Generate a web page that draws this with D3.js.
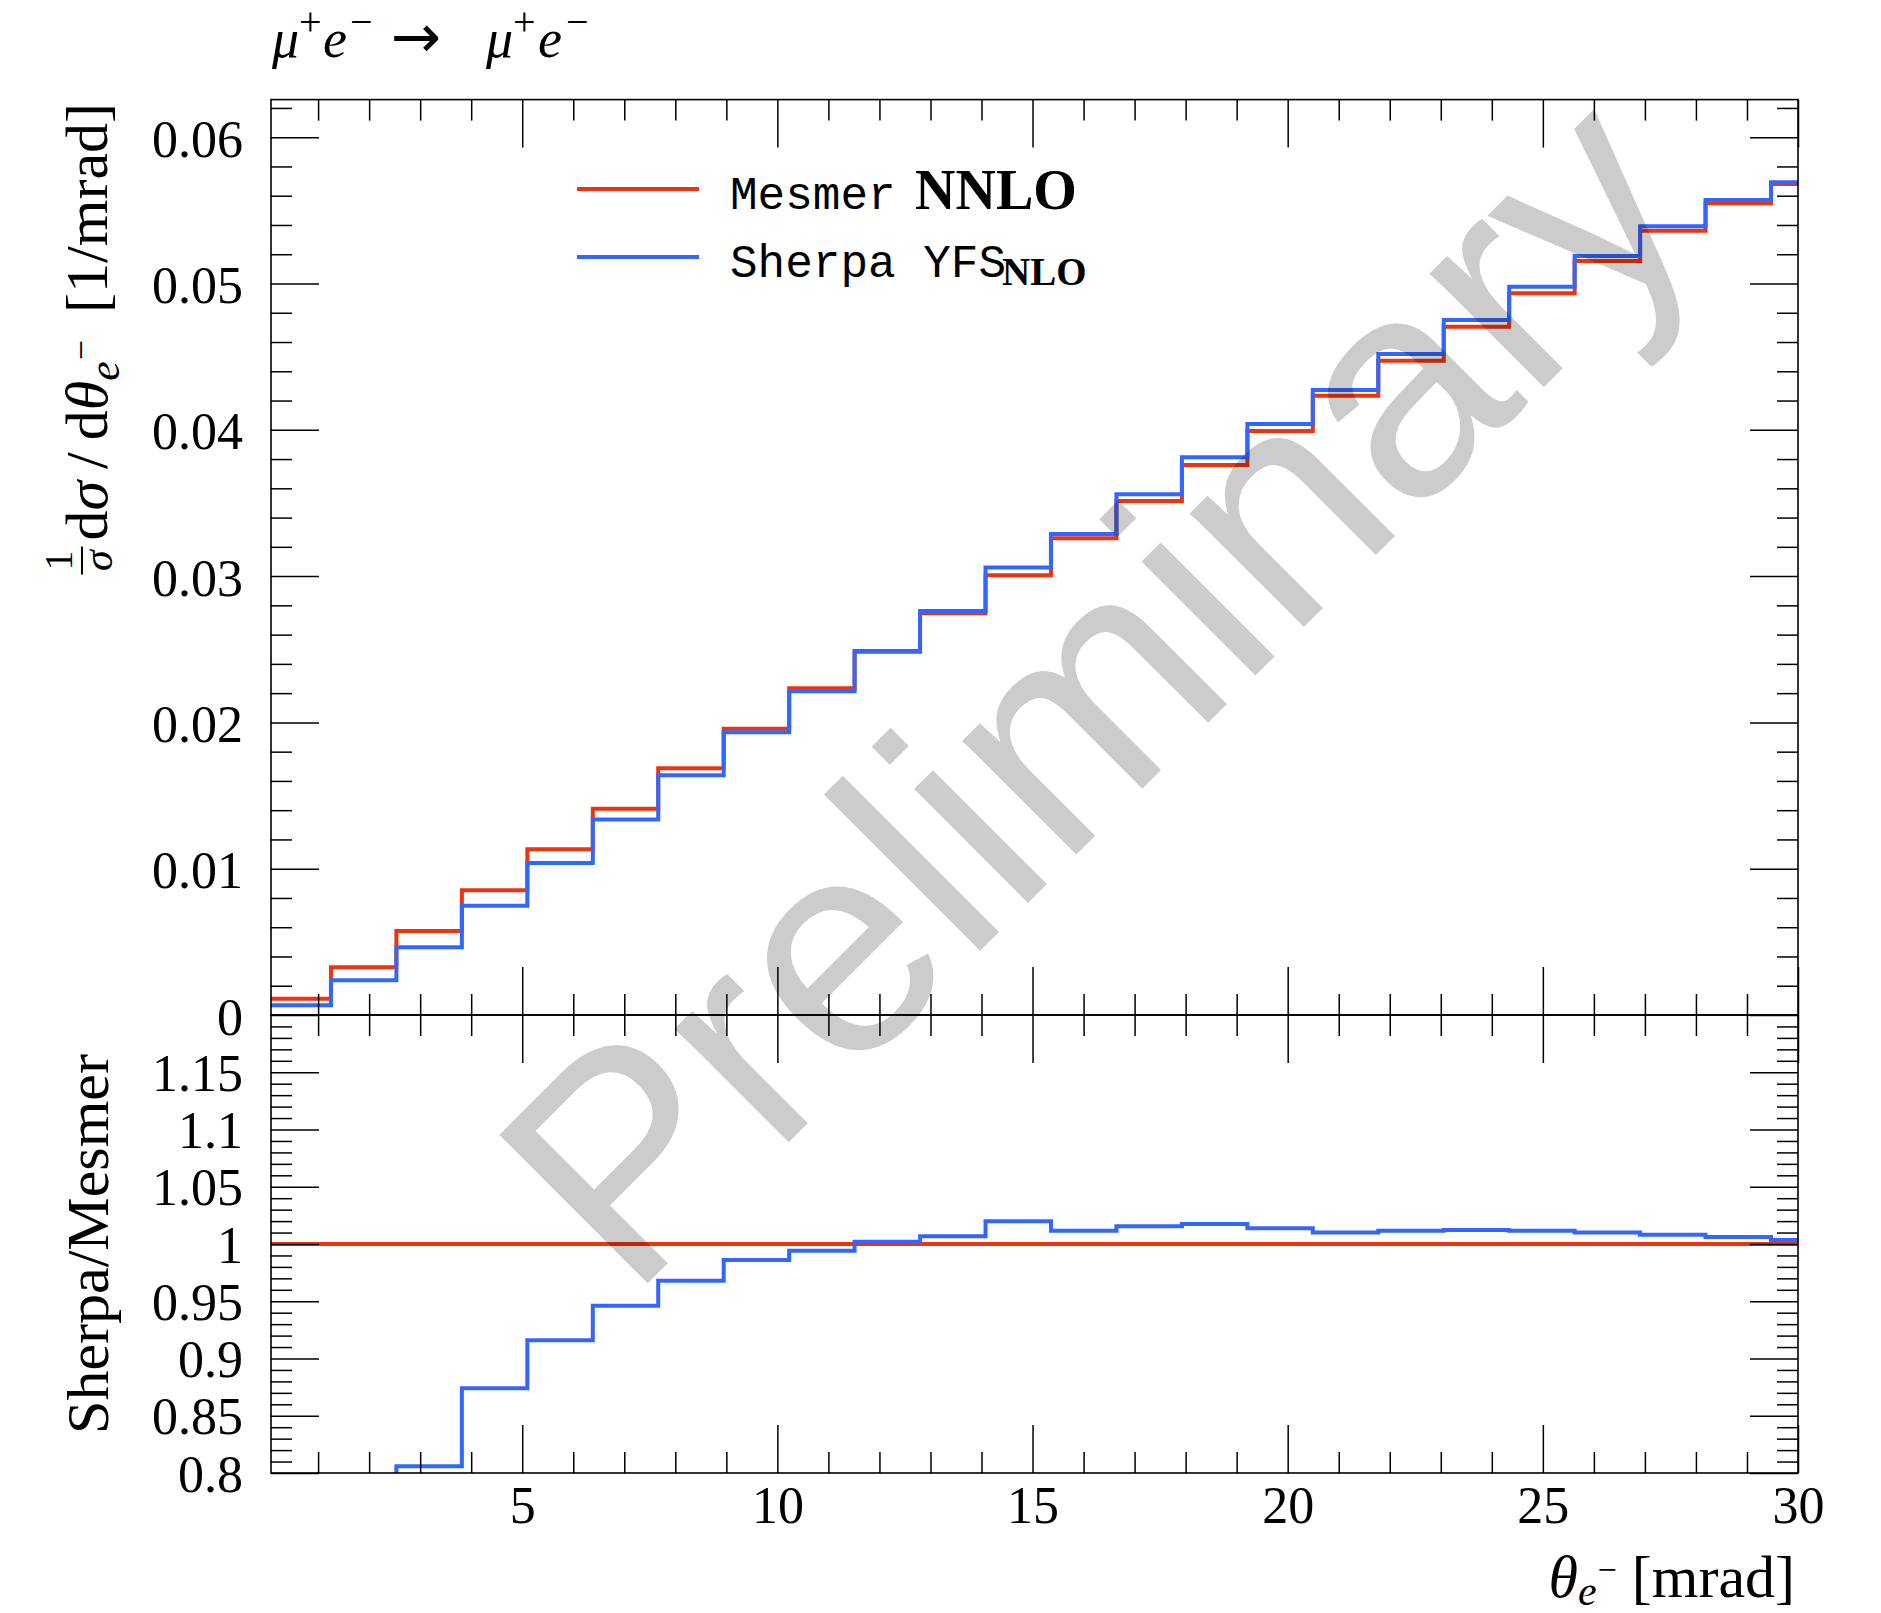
<!DOCTYPE html>
<html><head><meta charset="utf-8">
<script src="https://cdn.jsdelivr.net/npm/d3@7"></script>
<style>
html,body{margin:0;padding:0;background:#fff;}
svg{display:block;}
</style></head><body>
<svg id="c" width="1881" height="1613"></svg>
<script>
// ---- data ----
const binEdges = [-0.031, 1.252, 2.534, 3.817, 5.100, 6.383, 7.665, 8.948, 10.231, 11.513, 12.796, 14.079,
  15.361, 16.644, 17.927, 19.210, 20.492, 21.775, 23.058, 24.340, 25.623, 26.906, 28.188, 29.471, 30.754];
const mesmerNNLO = [0.00111, 0.00326, 0.00574, 0.00852, 0.01133, 0.01410, 0.01686, 0.01957, 0.02233, 0.02483,
  0.02746, 0.03005, 0.03258, 0.03513, 0.03759, 0.03992, 0.04233, 0.04472, 0.04705, 0.04933, 0.05154, 0.05361, 0.05548, 0.05680];
const sherpaYFS = [0.00066, 0.00237, 0.00463, 0.00747, 0.01039, 0.01337, 0.01638, 0.01932, 0.02213, 0.02488,
  0.02761, 0.03058, 0.03288, 0.03559, 0.03812, 0.04040, 0.04272, 0.04518, 0.04750, 0.04978, 0.05188, 0.05391, 0.05571, 0.05692];
const ratioSherpa = [0.59, 0.73, 0.806, 0.874, 0.916, 0.946, 0.968, 0.986, 0.994, 1.002, 1.0067, 1.0199,
  1.0116, 1.0156, 1.0174, 1.0137, 1.0101, 1.0116, 1.0123, 1.0116, 1.0101, 1.0080, 1.0062, 1.0036];
const ratioMesmer = [1, 1, 1, 1, 1, 1, 1, 1, 1, 1, 1, 1, 1, 1, 1, 1, 1, 1, 1, 1, 1, 1, 1, 1];
const xTickValues = [5, 10, 15, 20, 25, 30];
const xTickLabels = ["5", "10", "15", "20", "25", "30"];
const yMainTickValues = [0, 0.01, 0.02, 0.03, 0.04, 0.05, 0.06];
const yMainTickLabels = ["0", "0.01", "0.02", "0.03", "0.04", "0.05", "0.06"];
const yRatioTickValues = [0.8, 0.85, 0.9, 0.95, 1.0, 1.05, 1.1, 1.15];
const yRatioTickLabels = ["0.8", "0.85", "0.9", "0.95", "1", "1.05", "1.1", "1.15"];

// ---- layout ----
const L = 271, R = 1798, T = 99.6, MID = 1015, B = 1473;
const RED = "#EE3311", BLUE = "#3366FF";
const SERIF = "'Liberation Serif','DejaVu Serif',serif";
const MONO = "'Liberation Mono','DejaVu Sans Mono',monospace";

const svg = d3.select("#c");
svg.append("rect").attr("width", 1881).attr("height", 1613).attr("fill", "#fff");

const x = d3.scaleLinear().domain([0.077, 30]).range([L, R]);
const yMain = d3.scaleLinear().domain([0, 0.06257]).range([MID, T]);
const yRatio = d3.scaleLinear().domain([0.8, 1.2]).range([B, MID]);

const defs = svg.append("defs");
defs.append("clipPath").attr("id", "clipMain").append("rect")
  .attr("x", L).attr("y", T).attr("width", R - L).attr("height", MID - T);
defs.append("clipPath").attr("id", "clipRatio").append("rect")
  .attr("x", L).attr("y", MID).attr("width", R - L).attr("height", B - MID);

function stepPoints(vals) {
  const pts = vals.map((v, i) => [binEdges[i], v]);
  pts.push([binEdges[vals.length], vals[vals.length - 1]]);
  return pts;
}
const lineMain = d3.line().x(d => x(d[0])).y(d => yMain(d[1])).curve(d3.curveStepAfter);
const lineRatio = d3.line().x(d => x(d[0])).y(d => yRatio(d[1])).curve(d3.curveStepAfter);

const gMain = svg.append("g").attr("clip-path", "url(#clipMain)");
gMain.append("path").attr("d", lineMain(stepPoints(mesmerNNLO))).attr("fill", "none").attr("stroke", RED).attr("stroke-width", 4);
gMain.append("path").attr("d", lineMain(stepPoints(sherpaYFS))).attr("fill", "none").attr("stroke", BLUE).attr("stroke-width", 4);

const gRat = svg.append("g").attr("clip-path", "url(#clipRatio)");
gRat.append("path").attr("d", lineRatio(stepPoints(ratioMesmer))).attr("fill", "none").attr("stroke", RED).attr("stroke-width", 4);
gRat.append("path").attr("d", lineRatio(stepPoints(ratioSherpa))).attr("fill", "none").attr("stroke", BLUE).attr("stroke-width", 4);

// ---- axes ----
const xMinor = d3.range(1, 30).filter(v => v % 5 !== 0);
const yMainMinor = d3.range(1, 32).map(i => i * 0.002).filter(v => Math.abs(v * 100 - Math.round(v * 100)) > 1e-6);
const yRatioMinor = d3.range(81, 120).filter(v => v % 5 !== 0).map(v => v / 100);

function styleAxis(g) {
  g.select(".domain").remove();
  g.selectAll(".tick line").attr("stroke", "#000").attr("stroke-width", 1.5);
  g.selectAll("text").attr("font-family", SERIF).attr("font-size", 52).attr("fill", "#000");
}
function addAxis(axis, tx, ty) {
  const g = svg.append("g").attr("transform", `translate(${tx},${ty})`).call(axis);
  styleAxis(g);
  return g;
}
// x axes
[[d3.axisTop, T], [d3.axisBottom, MID], [d3.axisTop, MID]].forEach(([ax, yy]) => {
  addAxis(ax(x).tickValues(xTickValues).tickSize(-48).tickFormat(""), 0, yy);
  addAxis(ax(x).tickValues(xMinor).tickSize(-21).tickFormat(""), 0, yy);
});
const gxb = addAxis(d3.axisBottom(x).tickValues(xTickValues).tickSize(-48).tickPadding(50)
  .tickFormat((d, i) => xTickLabels[i]), 0, B);
gxb.selectAll("text").attr("dy", "0");
addAxis(d3.axisBottom(x).tickValues(xMinor).tickSize(-21).tickFormat(""), 0, B);

// y axes main
const gyl = addAxis(d3.axisLeft(yMain).tickValues(yMainTickValues).tickSize(-48).tickPadding(28)
  .tickFormat((d, i) => yMainTickLabels[i]), L, 0);
gyl.selectAll("text").attr("dy", "19px");
addAxis(d3.axisLeft(yMain).tickValues(yMainMinor).tickSize(-21).tickFormat(""), L, 0);
addAxis(d3.axisRight(yMain).tickValues(yMainTickValues).tickSize(-48).tickFormat(""), R, 0);
addAxis(d3.axisRight(yMain).tickValues(yMainMinor).tickSize(-21).tickFormat(""), R, 0);
// y axes ratio
const gyr = addAxis(d3.axisLeft(yRatio).tickValues(yRatioTickValues).tickSize(-48).tickPadding(28)
  .tickFormat((d, i) => yRatioTickLabels[i]), L, 0);
gyr.selectAll("text").attr("dy", "18px");
addAxis(d3.axisLeft(yRatio).tickValues(yRatioMinor).tickSize(-21).tickFormat(""), L, 0);
addAxis(d3.axisRight(yRatio).tickValues(yRatioTickValues).tickSize(-48).tickFormat(""), R, 0);
addAxis(d3.axisRight(yRatio).tickValues(yRatioMinor).tickSize(-21).tickFormat(""), R, 0);

// frames
svg.append("rect").attr("x", L).attr("y", T).attr("width", R - L).attr("height", MID - T)
  .attr("fill", "none").attr("stroke", "#000").attr("stroke-width", 1.6);
svg.append("rect").attr("x", L).attr("y", MID).attr("width", R - L).attr("height", B - MID)
  .attr("fill", "none").attr("stroke", "#000").attr("stroke-width", 1.6);

// ---- title ----
const title = svg.append("text").attr("y", 57).attr("font-family", SERIF).attr("font-size", 54).attr("fill", "#000");
function group(t, xs) {
  t.append("tspan").attr("x", xs[0]).attr("y", 57).attr("font-style", "italic").text("μ");
  t.append("tspan").attr("x", xs[1]).attr("y", 35).attr("font-size", 40).text("+");
  t.append("tspan").attr("x", xs[2]).attr("y", 57).attr("font-style", "italic").text("e");
  t.append("tspan").attr("x", xs[3]).attr("y", 35).attr("font-size", 40).text("−");
}
group(title, [272, 299, 323, 350]);
title.append("tspan").attr("x", 391).attr("y", 57).attr("font-family", "'DejaVu Sans',sans-serif").attr("font-size", 60)
  .attr("font-weight", "normal").text("→");
group(title, [486, 513, 538, 566]);

// ---- y label main ----
const gyLab = svg.append("g").attr("transform", "translate(107,103) rotate(-90)");
const yl = gyLab.append("text").attr("x", 0).attr("y", 0).attr("text-anchor", "end")
  .attr("font-family", SERIF).attr("font-size", 60).attr("fill", "#000");
yl.append("tspan").text("d");
yl.append("tspan").attr("font-style", "italic").text("σ");
yl.append("tspan").attr("dx", 12).text("/");
yl.append("tspan").attr("dx", 12).text("d");
yl.append("tspan").attr("font-style", "italic").text("θ");
yl.append("tspan").attr("font-style", "italic").attr("font-size", 44).attr("dy", 12).text("e");
yl.append("tspan").attr("font-size", 36).attr("dy", -26).attr("dx", 1).text("−");
yl.append("tspan").attr("dy", 14).attr("dx", 12).text(" [1/mrad]");
const ylBox = yl.node().getBBox();
const fcx = ylBox.x - 20;
gyLab.append("text").attr("x", fcx).attr("y", -35).attr("text-anchor", "middle")
  .attr("font-family", SERIF).attr("font-size", 40).text("1");
gyLab.append("line").attr("x1", fcx - 14).attr("x2", fcx + 14).attr("y1", -25).attr("y2", -25)
  .attr("stroke", "#000").attr("stroke-width", 2);
gyLab.append("text").attr("x", fcx).attr("y", 5).attr("text-anchor", "middle").attr("font-style", "italic")
  .attr("font-family", SERIF).attr("font-size", 42).text("σ");

// ---- y label ratio ----
svg.append("text").attr("transform", "translate(108,1244) rotate(-90)").attr("text-anchor", "middle")
  .attr("font-family", SERIF).attr("font-size", 60).attr("fill", "#000").text("Sherpa/Mesmer");

// ---- x label ----
const xl = svg.append("text").attr("x", 1795).attr("y", 1597).attr("text-anchor", "end")
  .attr("font-family", SERIF).attr("font-size", 60).attr("fill", "#000");
xl.append("tspan").attr("font-style", "italic").text("θ");
xl.append("tspan").attr("font-style", "italic").attr("font-size", 42).attr("dy", 8).text("e");
xl.append("tspan").attr("font-size", 34).attr("dy", -24).attr("dx", 1).text("−");
xl.append("tspan").attr("dy", 16).text("  [mrad]");

// ---- legend ----
const legend = [
  {name: "Mesmer", tag: "NNLO", sub: false, color: RED, y: 189},
  {name: "Sherpa YFS", tag: "NLO", sub: true, color: BLUE, y: 257}
];
legend.forEach(d => {
  svg.append("line").attr("x1", 577).attr("x2", 699).attr("y1", d.y).attr("y2", d.y)
    .attr("stroke", d.color).attr("stroke-width", 4);
  const t = svg.append("text").attr("x", 730).attr("y", d.y + 20).attr("fill", "#000");
  t.append("tspan").attr("font-family", MONO).attr("font-size", 46).text(d.name);
  if (!d.sub) {
    t.append("tspan").attr("x", 915).attr("font-family", SERIF).attr("font-weight", "bold").attr("font-size", 56).text(d.tag);
  } else {
    t.append("tspan").attr("x", 1002).attr("dy", 8).attr("font-family", SERIF).attr("font-weight", "bold").attr("font-size", 39).text(d.tag);
  }
});

// ---- watermark ----
svg.append("text").attr("transform", "translate(630,1301) rotate(-45)")
  .attr("font-family", "'Liberation Sans',Arial,sans-serif").attr("font-size", 305)
  .attr("fill", "#000").attr("fill-opacity", 0.2).text("Preliminary");
</script>
</body></html>
